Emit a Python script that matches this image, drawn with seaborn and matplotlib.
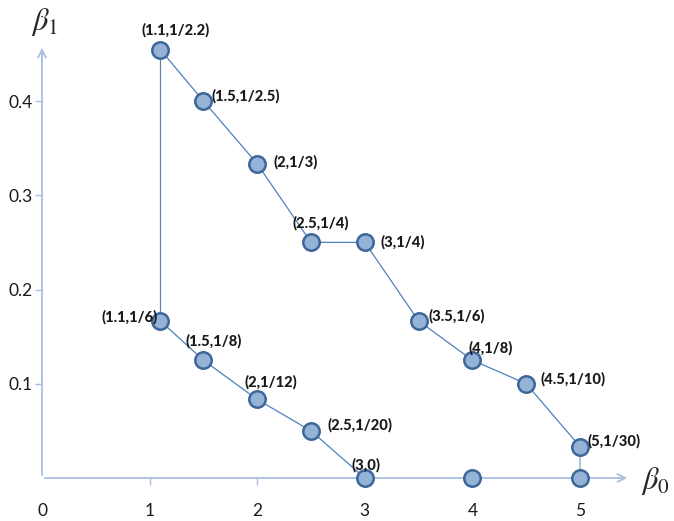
import matplotlib
matplotlib.use("Agg")
import matplotlib.pyplot as plt
import seaborn as sns
import pandas as pd

sns.set_theme(style="white")
plt.rcParams["font.family"] = ["Lato", "DejaVu Sans"]
plt.rcParams["mathtext.fontset"] = "stix"

# Upper boundary of the region (beta0, beta1)
upper_b0 = [1.1, 1.5, 2, 2.5, 3, 3.5, 4, 4.5, 5]
upper_b1 = [1 / 2.2, 1 / 2.5, 1 / 3, 1 / 4, 1 / 4, 1 / 6, 1 / 8, 1 / 10, 1 / 30]
upper_labels = ["(1.1,1/2.2)", "(1.5,1/2.5)", "(2,1/3)", "(2.5,1/4)", "(3,1/4)",
                "(3.5,1/6)", "(4,1/8)", "(4.5,1/10)", "(5,1/30)"]

# Lower boundary of the region
lower_b0 = [1.1, 1.5, 2, 2.5, 3]
lower_b1 = [1 / 6, 1 / 8, 1 / 12, 1 / 20, 0]
lower_labels = ["(1.1,1/6)", "(1.5,1/8)", "(2,1/12)", "(2.5,1/20)", "(3,0)"]

# Points lying on the beta0 axis
axis_b0 = [4, 5]
axis_b1 = [0, 0]

x_ticks = [0, 1, 2, 3, 4, 5]
y_ticks = [0.1, 0.2, 0.3, 0.4]

LINE = "#4f81bd"
AXIS = "#a8bfe0"
FILL = "#95b3d7"
EDGE = "#3d6699"

W, H = 674, 521
fig = plt.figure(figsize=(W / 100, H / 100), dpi=100)
x0px, x1px, y0px, y1px = 42, 630, 478, 45
ax = fig.add_axes([x0px / W, (H - y0px) / H, (x1px - x0px) / W, (y0px - y1px) / H])
px_per_x = 107.6
px_per_y = 942.5
ax.set_xlim(0, (x1px - x0px) / px_per_x)
ax.set_ylim(0, (y0px - y1px) / px_per_y)
for s in ax.spines.values():
    s.set_visible(False)

# axes drawn as arrows
arrow = dict(arrowstyle="->", color=AXIS, lw=1.3, mutation_scale=14)
ax.annotate("", xy=(1, 0), xytext=(0, 0), xycoords="axes fraction", arrowprops=arrow)
ax.annotate("", xy=(0, 1), xytext=(0, 0), xycoords="axes fraction", arrowprops=arrow)

upper = pd.DataFrame({"b0": upper_b0 + [5], "b1": upper_b1 + [0]})
lower = pd.DataFrame({"b0": lower_b0, "b1": lower_b1})
edge_left = pd.DataFrame({"b0": [lower_b0[0], upper_b0[0]], "b1": [lower_b1[0], upper_b1[0]]})

# connecting segments (drawn in the given order, no aggregation)
seg = dict(x="b0", y="b1", sort=False, estimator=None, ax=ax)
sns.lineplot(data=upper.iloc[:-1], color=LINE, lw=0.9, **seg)
sns.lineplot(data=upper.iloc[-2:], color=AXIS, lw=1.3, **seg)
sns.lineplot(data=lower, color=LINE, lw=0.9, **seg)
sns.lineplot(data=edge_left, color="#6a84a8", lw=0.9, **seg)

pts = pd.DataFrame({"b0": upper_b0 + lower_b0 + axis_b0,
                    "b1": upper_b1 + lower_b1 + axis_b1})
sns.scatterplot(data=pts, x="b0", y="b1", s=140, color=FILL, edgecolor=EDGE,
                linewidth=1.8, zorder=5, ax=ax)
for c in ax.collections:
    c.set_clip_on(False)

# point labels: (dx, dy in pixels, alignment)
upper_off = [(15, 19, "center"), (8, 5, "left"), (16, 2, "left"), (10, 19, "center"),
             (16, 0, "left"), (10, 5, "left"), (-4, 12, "left"), (14, 4, "left"),
             (8, 5, "left")]
lower_off = [(-3, 4, "right"), (10, 19, "center"), (14, 17, "center"),
             (16, 6, "left"), (1, 13, "center")]
for xs, ys, labs, offs in [(upper_b0, upper_b1, upper_labels, upper_off),
                           (lower_b0, lower_b1, lower_labels, lower_off)]:
    for x, y, lab, (dx, dy, ha) in zip(xs, ys, labs, offs):
        ax.annotate(lab, (x, y), xytext=(dx, dy), textcoords="offset pixels",
                    ha=ha, va="center", fontsize=10.6, fontweight="black",
                    color="#1a1a1a", zorder=6)

ax.set_xticks(x_ticks)
ax.set_xticklabels([str(t) for t in x_ticks])
ax.set_yticks(y_ticks)
ax.set_yticklabels([f"{t:.1f}" for t in y_ticks])
ax.tick_params(axis="x", direction="out", length=5, width=1, color=AXIS, pad=13,
               labelsize=12.5, labelcolor="#1a1a1a", bottom=True)
ax.tick_params(axis="y", direction="out", length=5, width=1, color=AXIS, pad=2,
               labelsize=12.5, labelcolor="#1a1a1a", left=True)
ax.xaxis.get_major_ticks()[0].tick1line.set_visible(False)
ax.set_xlabel("")
ax.set_ylabel("")

fig.text(45 / W, 1 - 22 / H, r"$\beta_1$", fontsize=22, ha="center", va="center")
fig.text(655 / W, 1 - 481 / H, r"$\beta_0$", fontsize=22, ha="center", va="center")

fig.savefig("out.png", dpi=100)
